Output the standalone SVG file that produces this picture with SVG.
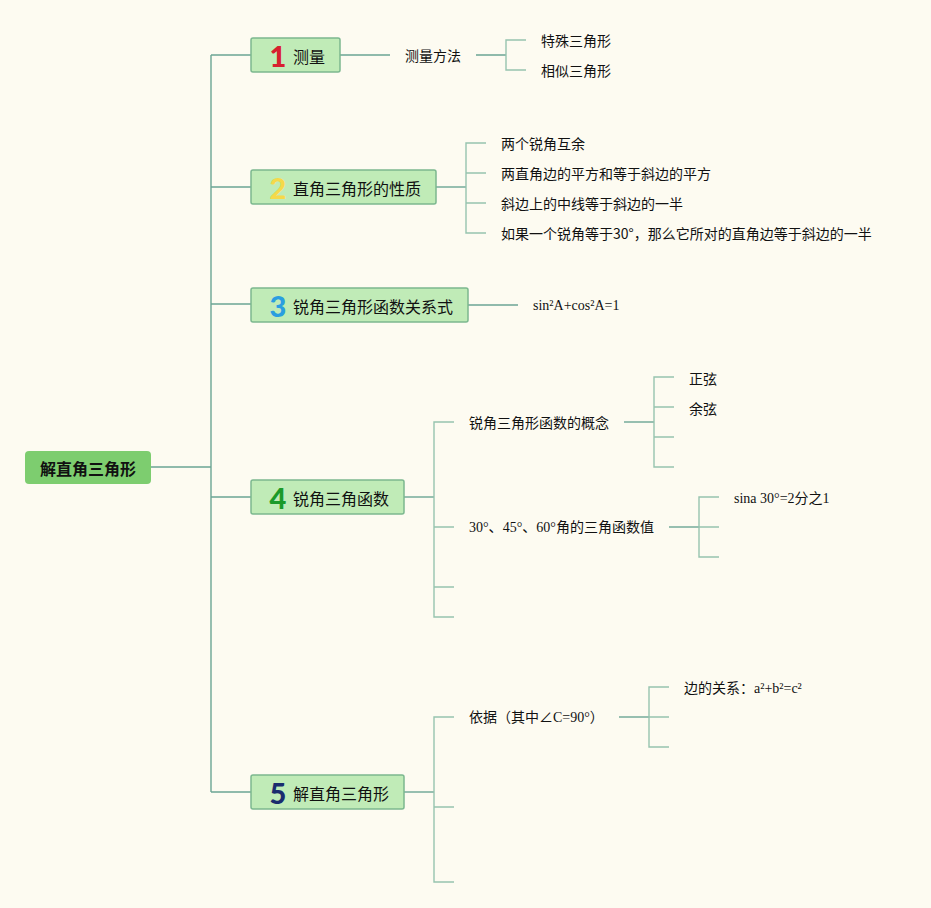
<svg xmlns="http://www.w3.org/2000/svg" width="931" height="908" viewBox="0 0 931 908">
<style>
.bg{fill:#fdfbf1}
.root{fill:#7dcd6f}
.node{fill:#c0ebb7;stroke:#7cb88f;stroke-width:1.5}
.rt{font-family:"Noto Sans CJK SC","Noto Sans",sans-serif;font-size:16px;font-weight:bold;fill:#111}
.nt{font-family:"Noto Sans CJK SC","Noto Sans",sans-serif;font-size:16px;fill:#111}
.num{font-family:"Lato","Open Sans",sans-serif;font-size:29px;font-weight:900}
.lt{font-family:"Noto Sans CJK SC","Noto Sans",sans-serif;font-size:14px;fill:#111}
.st{font-family:"Liberation Serif","Noto Sans CJK SC",serif;font-size:14px;fill:#111}
.c1{fill:none;stroke:#6ba594;stroke-width:1.4}
.c2{fill:none;stroke:#96c4af;stroke-width:1.4}
</style>
<rect class="bg" x="0" y="0" width="931" height="908"/>
<g id="connectors">
<path class="c1" d="M151,467H211M211,55V792M211,55H251M211,187H251M211,304H251M211,497H251M211,792H251"/>
<path class="c1" d="M340,55H390M476,55H506"/>
<path class="c2" d="M526,40H506V70H526"/>
<path class="c1" d="M436,187H466"/>
<path class="c2" d="M486,143H466V233H486M466,173H486M466,203H486"/>
<path class="c1" d="M468,305H518"/>
<path class="c1" d="M404,497H434"/>
<path class="c2" d="M454,422H434V617H454M434,527H454M434,587H454"/>
<path class="c1" d="M624,422H654"/>
<path class="c2" d="M674,377H654V467H674M654,407H674M654,437H674"/>
<path class="c1" d="M669,527H699"/>
<path class="c2" d="M719,497H699V557H719M699,527H719"/>
<path class="c1" d="M404,792H434"/>
<path class="c2" d="M454,717H434V882H454M434,807H454"/>
<path class="c1" d="M619,717H649"/>
<path class="c2" d="M669,687H649V747H669M649,717H669"/>
</g>
<g id="root">
<rect class="root" x="25" y="451" width="126" height="33" rx="4"/>
<text class="rt" x="88" y="467.5" text-anchor="middle" dominant-baseline="central">解直角三角形</text>
</g>
<g id="n1">
<rect class="node" x="251" y="38" width="89" height="34" rx="2"/>
<text class="num" x="278" y="55" text-anchor="middle" dominant-baseline="central" fill="#d8202f">1</text>
<text class="nt" x="293" y="55.5" dominant-baseline="central">测量</text>
</g>
<g id="n2">
<rect class="node" x="251" y="170" width="185" height="34" rx="2"/>
<text class="num" x="278" y="187" text-anchor="middle" dominant-baseline="central" fill="#f5d94a">2</text>
<text class="nt" x="293" y="187.5" dominant-baseline="central">直角三角形的性质</text>
</g>
<g id="n3">
<rect class="node" x="251" y="288" width="217" height="34" rx="2"/>
<text class="num" x="278" y="305" text-anchor="middle" dominant-baseline="central" fill="#2a9ee0">3</text>
<text class="nt" x="293" y="305.5" dominant-baseline="central">锐角三角形函数关系式</text>
</g>
<g id="n4">
<rect class="node" x="251" y="480" width="153" height="34" rx="2"/>
<text class="num" x="278" y="497" text-anchor="middle" dominant-baseline="central" fill="#1b9a2a">4</text>
<text class="nt" x="293" y="497.5" dominant-baseline="central">锐角三角函数</text>
</g>
<g id="n5">
<rect class="node" x="251" y="775" width="153" height="34" rx="2"/>
<text class="num" x="278" y="792" text-anchor="middle" dominant-baseline="central" fill="#1a2c6e">5</text>
<text class="nt" x="293" y="792.5" dominant-baseline="central">解直角三角形</text>
</g>
<g id="n1-leaves">
<text class="lt" x="405" y="55" dominant-baseline="central">测量方法</text>
<text class="lt" x="541" y="40" dominant-baseline="central">特殊三角形</text>
<text class="lt" x="541" y="70" dominant-baseline="central">相似三角形</text>
</g>
<g id="n2-leaves">
<text class="lt" x="501" y="143" dominant-baseline="central">两个锐角互余</text>
<text class="lt" x="501" y="173" dominant-baseline="central">两直角边的平方和等于斜边的平方</text>
<text class="lt" x="501" y="203" dominant-baseline="central">斜边上的中线等于斜边的一半</text>
<text class="lt" x="501" y="233" dominant-baseline="central">如果一个锐角等于30°，那么它所对的直角边等于斜边的一半</text>
</g>
<g id="n3-leaves">
<text class="st" x="533" y="305" dominant-baseline="central">sin²A+cos²A=1</text>
</g>
<g id="n4-leaves">
<text class="lt" x="469" y="422" dominant-baseline="central">锐角三角形函数的概念</text>
<text class="lt" x="689" y="378" dominant-baseline="central">正弦</text>
<text class="lt" x="689" y="408" dominant-baseline="central">余弦</text>
<text class="st" x="469" y="527" dominant-baseline="central" textLength="185" lengthAdjust="spacingAndGlyphs">30°、45°、60°角的三角函数值</text>
<text class="st" x="734" y="498" dominant-baseline="central">sina 30°=2分之1</text>
</g>
<g id="n5-leaves">
<text class="st" x="469" y="717" dominant-baseline="central">依据（其中∠C=90°）</text>
<text class="st" x="684" y="688" dominant-baseline="central">边的关系：<tspan font-size="14">a²+b²=c²</tspan></text>
</g>
</svg>
